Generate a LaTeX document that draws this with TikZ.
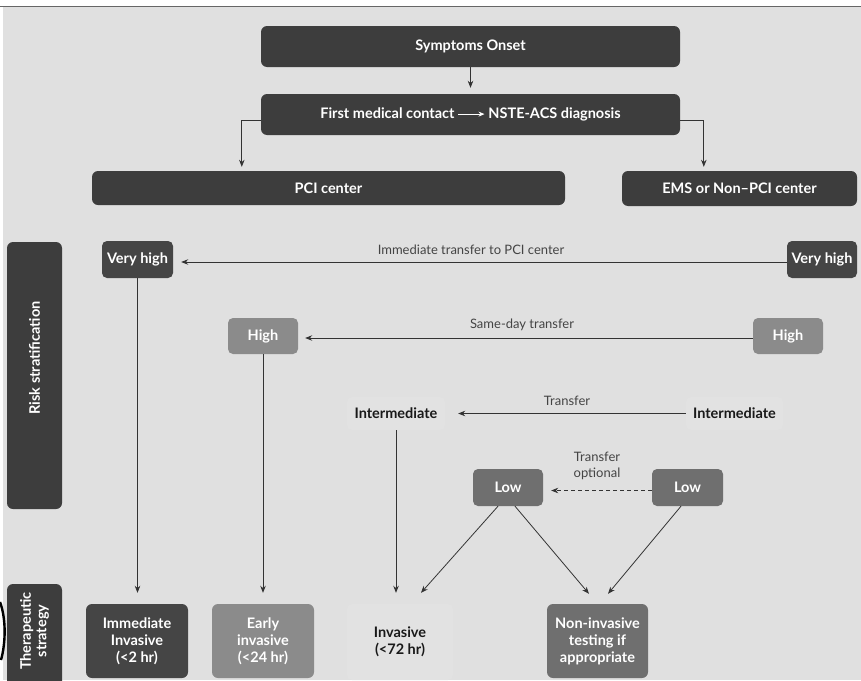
\documentclass[tikz,border=0pt]{standalone}
\usepackage{fontspec}
\setmainfont{Lato}
\usetikzlibrary{arrows.meta,calc}
\definecolor{bgcol}{HTML}{E0E0E0}
\definecolor{darkbox}{HTML}{3D3D3D}
\definecolor{vhbox}{HTML}{454545}
\definecolor{highbox}{HTML}{8B8B8B}
\definecolor{lowbox}{HTML}{6F6F6F}
\definecolor{linecol}{HTML}{333333}
\definecolor{labelcol}{HTML}{444444}
\definecolor{softbox}{HTML}{E2E2E2}
\tikzset{
  box/.style={rounded corners=6pt, text=white, font=\bfseries\fontsize{14.5}{17}\selectfont,
    align=center, inner sep=2pt},
  smallbox/.style={box, rounded corners=5pt},
  plainbox/.style={rounded corners=5pt, fill=softbox, text=black!90,
    font=\bfseries\fontsize{14.5}{17}\selectfont, align=center, inner sep=2pt},
  lbl/.style={text=labelcol, font=\fontsize{13}{15}\selectfont, align=center, inner sep=0pt},
  arr/.style={draw=linecol, line width=0.8pt, -{Stealth[length=7pt,width=5.5pt]}},
}
\begin{document}
\begin{tikzpicture}[x=1pt,y=-1pt]
\useasboundingbox (0,0) rectangle (861,680);
\fill[white] (0,0) rectangle (861,680);
\fill[bgcol] (3,7) rectangle (861,680);
\draw[line width=1.3pt, black!60] (0,6.5) -- (861,6.5);
\draw[line width=2.4pt, black] (0,602) .. controls (6,618) and (6,642) .. (1,660);

% top of the pathway
\node[box, fill=darkbox, minimum width=419pt, minimum height=41pt] (sym) at (470.5,46.5) {Symptoms Onset};
\node[box, fill=darkbox, minimum width=419pt, minimum height=41pt] (fmc) at (470.5,114.5)
  {First medical contact \tikz[baseline=-0.6ex]\draw[white, line width=0.8pt, -{Stealth[length=6pt,width=5pt]}] (0,0) -- (26pt,0); NSTE-ACS diagnosis};
\node[box, fill=darkbox, minimum width=473pt, minimum height=34pt] (pci) at (328.5,188) {PCI center};
\node[box, fill=darkbox, minimum width=235pt, minimum height=35pt] (ems) at (739.5,188.5) {EMS or Non--PCI center};

\draw[arr, shorten >=6pt] (sym.south) -- (fmc.north);
\draw[arr] ($(fmc.west)+(0,6)$) -| ($(pci.north west)+(150,-4)$);
\draw[arr] ($(fmc.east)+(0,6)$) -| ($(ems.north west)+(82,-4)$);

% side bands
\node[box, fill=darkbox, minimum width=55pt, minimum height=267pt] (risk) at (34.5,375.5) {};
\node[text=white, font=\bfseries\fontsize{14.5}{17}\selectfont, rotate=90] (risklbl) at (34.5,358) {Risk stratification};
\node[box, fill=darkbox, minimum width=55pt, minimum height=110pt] (ther) at (34.5,639) {};
\node[text=white, font=\bfseries\fontsize{14.5}{15.5}\selectfont, rotate=90, align=center] (therlbl) at (34.5,631) {Therapeutic\\strategy};

% risk levels
\node[smallbox, fill=vhbox, minimum width=71pt, minimum height=37pt] (vhl) at (137.5,259.5) {Very high};
\node[smallbox, fill=vhbox, minimum width=70pt, minimum height=37pt] (vhr) at (822,259.5) {Very high};
\draw[arr, shorten >=8pt] ($(vhr.west)+(0,2.5)$) -- ($(vhl.east)+(0,2.5)$);
\node[lbl] (vhlbl) at (471,250) {Immediate transfer to PCI center};

\node[smallbox, fill=highbox, minimum width=70pt, minimum height=36pt] (hil) at (263,336) {High};
\node[smallbox, fill=highbox, minimum width=70pt, minimum height=36pt] (hir) at (788,336) {High};
\draw[arr, shorten >=7pt] ($(hir.west)+(0,2)$) -- ($(hil.east)+(0,2)$);
\node[lbl] (hilbl) at (522,325) {Same-day transfer};

\node[plainbox, minimum width=98pt, minimum height=33pt] (inl) at (396,413.5) {Intermediate};
\node[plainbox, minimum width=97pt, minimum height=33pt] (inr) at (734.5,413.5) {Intermediate};
\draw[arr, shorten >=13pt] (inr.west) -- (inl.east);
\node[lbl] (inlbl) at (567,401) {Transfer};

\node[smallbox, fill=lowbox, minimum width=70pt, minimum height=37pt] (lol) at (508,487.5) {Low};
\node[smallbox, fill=lowbox, minimum width=71pt, minimum height=37pt] (lor) at (687.5,487.5) {Low};
\draw[arr, dashed, dash pattern=on 4pt off 3pt, shorten >=8pt] ($(lor.west)+(0,3)$) -- ($(lol.east)+(0,3)$);
\node[lbl, font=\fontsize{13}{16.5}\selectfont] (lolbl) at (597,466) {Transfer\\optional};

% therapeutic strategies
\node[box, fill=vhbox, minimum width=102pt, minimum height=74pt] (imm) at (137,641) {Immediate\\Invasive\\(<2 hr)};
\node[box, fill=highbox, minimum width=102pt, minimum height=74pt] (early) at (263,641) {Early\\invasive\\(<24 hr)};
\node[plainbox, minimum width=106pt, minimum height=76pt] (inv) at (400,642) {Invasive\\(<72 hr)};
\node[box, fill=lowbox, minimum width=101pt, minimum height=74pt] (noninv) at (597.5,641) {Non-invasive\\testing if\\appropriate};

\draw[arr, shorten >=11pt] (vhl.south) -- (vhl.south |- imm.north);
\draw[arr, shorten >=11pt] (hil.south) -- (early.north);
\draw[arr, shorten >=11pt] (inl.south) -- (inl.south |- inv.north);
\draw[arr] ($(lol.south)+(-10,0)$) -- ($(inv.north)+(21,-11)$);
\draw[arr] ($(lol.south)+(7,0)$) -- ($(noninv.north)+(-8.5,-10)$);
\draw[arr] ($(lor.south)+(-6.5,0)$) -- ($(noninv.north)+(10.5,-10)$);
\end{tikzpicture}
\end{document}
